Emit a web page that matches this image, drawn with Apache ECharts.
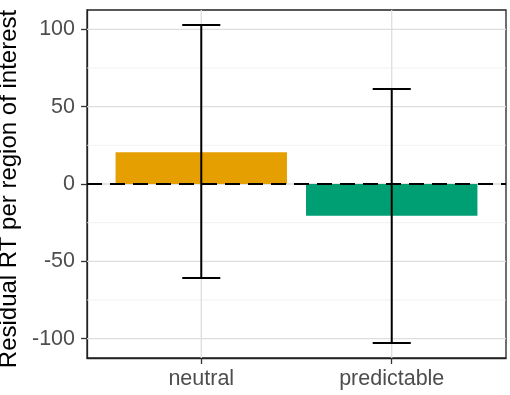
<!DOCTYPE html>
<html>
<head>
<meta charset="utf-8">
<script src="https://cdn.jsdelivr.net/npm/echarts@6/dist/echarts.min.js"></script>
<style>
  html, body { margin: 0; padding: 0; background: #fff; }
  #chart { width: 510px; height: 395px; }
</style>
</head>
<body>
<div id="chart"></div>
<script>
const categories = ['neutral', 'predictable'];
const means = [20.5, -20.6];
const lower = [-60.7, -102.8];
const upper = [102.8, 61.4];
const barColors = ['#E69F00', '#009E73'];
const yTicks = [-100, -50, 0, 50, 100];
const yMinor = [-75, -25, 25, 75];

const xMin = 0.4, xMax = 2.6;
const yMin = -112.5, yMax = 112.5;
const xPos = categories.map((c, i) => i + 1);

const chart = echarts.init(document.getElementById('chart'));

// grid lines drawn through the axes' own scales
const hLine = (color, width) => (params, api) => {
  const a = api.coord([xMin, api.value(1)]);
  const b = api.coord([xMax, api.value(1)]);
  return { type: 'line', shape: { x1: a[0], y1: a[1], x2: b[0], y2: b[1] },
    style: { stroke: color, lineWidth: width } };
};
const vLine = (color, width) => (params, api) => {
  const a = api.coord([api.value(0), yMin]);
  const b = api.coord([api.value(0), yMax]);
  return { type: 'line', shape: { x1: a[0], y1: a[1], x2: b[0], y2: b[1] },
    style: { stroke: color, lineWidth: width } };
};

const option = {
  animation: false,
  textStyle: { fontFamily: 'Liberation Sans, Arial, sans-serif' },
  grid: {
    left: 87, right: 4, top: 10, bottom: 37,
    outerBoundsMode: 'none', containLabel: false,
    show: true, borderColor: '#222', borderWidth: 1.3, backgroundColor: '#fff'
  },
  xAxis: {
    type: 'value', min: xMin, max: xMax,
    axisLine: { show: true, onZero: false, lineStyle: { color: '#222', width: 1.3 } },
    axisTick: { show: true, customValues: xPos, length: 6, lineStyle: { color: '#333', width: 1.3 } },
    axisLabel: {
      customValues: xPos, fontSize: 21.5, color: '#4d4d4d', margin: 10,
      formatter: v => categories[Math.round(v) - 1]
    },
    splitLine: { show: false }
  },
  yAxis: {
    type: 'value', min: yMin, max: yMax,
    name: 'Residual RT per region of interest', nameLocation: 'middle', nameGap: 61,
    nameTextStyle: { fontSize: 24, color: '#000', padding: [0, 10, 0, 0] },
    axisLine: { show: true, lineStyle: { color: '#222', width: 1.3 } },
    axisTick: { show: true, customValues: yTicks, length: 6, lineStyle: { color: '#333', width: 1.3 } },
    axisLabel: { customValues: yTicks, fontSize: 21.5, color: '#4d4d4d', margin: 12 },
    splitLine: { show: false }
  },
  series: [
    { type: 'custom', z: 1, silent: true, data: yMinor.map(v => [1, v]),
      renderItem: hLine('#eeeeee', 0.8) },
    { type: 'custom', z: 1, silent: true, data: yTicks.map(v => [1, v]),
      renderItem: hLine('#dedede', 1.3) },
    { type: 'custom', z: 1, silent: true, data: xPos.map(v => [v, 0]),
      renderItem: vLine('#dedede', 1.3) },
    {
      type: 'custom', z: 2,
      data: means.map((m, i) => [xPos[i], m]),
      renderItem: (params, api) => {
        const x = api.value(0), m = api.value(1);
        const p0 = api.coord([x - 0.45, Math.max(m, 0)]);
        const p1 = api.coord([x + 0.45, Math.min(m, 0)]);
        return { type: 'rect',
          shape: { x: p0[0], y: p0[1], width: p1[0] - p0[0], height: p1[1] - p0[1] },
          style: { fill: barColors[params.dataIndex] } };
      }
    },
    { type: 'custom', z: 3, silent: true, data: [[1, 0]],
      renderItem: (params, api) => {
        const a = api.coord([xMin, api.value(1)]);
        const b = api.coord([xMax, api.value(1)]);
        return { type: 'line', shape: { x1: a[0], y1: a[1], x2: b[0], y2: b[1] },
          style: { stroke: '#000', lineWidth: 2, lineDash: [15, 8] } };
      }
    },
    {
      type: 'custom', z: 4,
      data: xPos.map((x, i) => [x, lower[i], upper[i]]),
      renderItem: (params, api) => {
        const x = api.value(0);
        const lo = api.coord([x, api.value(1)]);
        const hi = api.coord([x, api.value(2)]);
        const capL = api.coord([x - 0.1, 0])[0];
        const capR = api.coord([x + 0.1, 0])[0];
        const st = { stroke: '#000', lineWidth: 2 };
        return { type: 'group', children: [
          { type: 'line', shape: { x1: lo[0], y1: lo[1], x2: hi[0], y2: hi[1] }, style: st },
          { type: 'line', shape: { x1: capL, y1: lo[1], x2: capR, y2: lo[1] }, style: st },
          { type: 'line', shape: { x1: capL, y1: hi[1], x2: capR, y2: hi[1] }, style: st }
        ] };
      }
    }
  ]
};

chart.setOption(option);
</script>
</body>
</html>
